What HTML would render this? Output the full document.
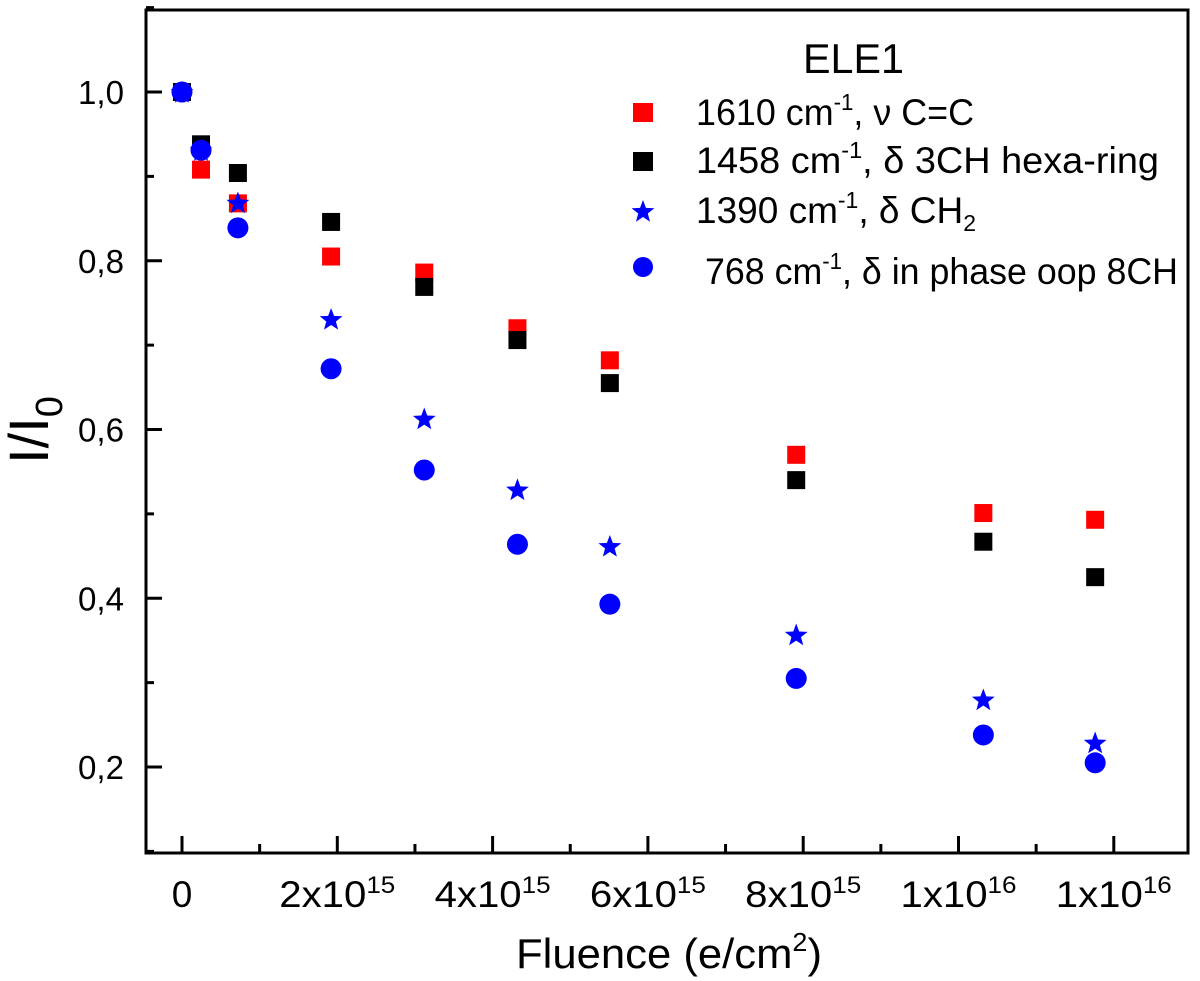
<!DOCTYPE html>
<html><head><meta charset="utf-8"><style>
html,body{margin:0;padding:0;background:#fff;}
svg{display:block;font-family:"Liberation Sans",Arial,sans-serif;}
</style></head><body>
<svg id="chart" width="1200" height="981" viewBox="0 0 1200 981">
<rect x="146" y="10" width="1042" height="843" fill="none" stroke="#000" stroke-width="3"/>
<g id="axes"></g>
<g id="marks"></g>
<text x="48" y="430" font-size="56" text-anchor="middle" transform="rotate(-90 48 430)">I/I<tspan font-size="38" dy="14">0</tspan></text>
<text x="516" y="968" font-size="42" textLength="306" lengthAdjust="spacingAndGlyphs">Fluence (e/cm<tspan font-size="26" dy="-17">2</tspan><tspan dy="17">)</tspan></text>
<g>
<text x="803" y="73" font-size="42" textLength="101" lengthAdjust="spacingAndGlyphs">ELE1</text>
<rect x="633" y="103" width="20" height="19" fill="#f00"/>
<text x="696" y="125" font-size="37" textLength="278" lengthAdjust="spacingAndGlyphs">1610 cm<tspan font-size="23" dy="-15">-1</tspan><tspan dy="15">, ν C=C</tspan></text>
<rect x="633" y="152" width="20" height="19" fill="#000"/>
<text x="696" y="173" font-size="37" textLength="463" lengthAdjust="spacingAndGlyphs">1458 cm<tspan font-size="23" dy="-15">-1</tspan><tspan dy="15">, δ 3CH hexa-ring</tspan></text>
<path id="legstar" fill="#00f"/>
<text x="696" y="223" font-size="37" textLength="280" lengthAdjust="spacingAndGlyphs">1390 cm<tspan font-size="23" dy="-15">-1</tspan><tspan dy="15">, δ  CH</tspan><tspan font-size="23" dy="8">2</tspan></text>
<circle cx="643" cy="267" r="10" fill="#00f"/>
<text x="705" y="284" font-size="37" textLength="473" lengthAdjust="spacingAndGlyphs">768 cm<tspan font-size="23" dy="-15">-1</tspan><tspan dy="15">, δ in phase oop 8CH</tspan></text>
</g>
</svg>
<script>
const fluence = [0, 0.245, 0.72, 1.92, 3.12, 4.32, 5.51, 7.91, 10.32, 11.76]; // x1e15
const red1610 = [1.0, 0.908, 0.868, 0.805, 0.786, 0.720, 0.682, 0.570, 0.501, 0.493];
const black1458 = [1.0, 0.938, 0.904, 0.846, 0.769, 0.706, 0.655, 0.540, 0.467, 0.425];
const star1390 = [1.0, 0.931, 0.869, 0.731, 0.613, 0.529, 0.462, 0.357, 0.280, 0.229];
const circ768 = [1.0, 0.931, 0.839, 0.672, 0.552, 0.464, 0.393, 0.305, 0.238, 0.205];
const yTicks = [0.2, 0.4, 0.6, 0.8, 1.0];
const yTickLabels = ["0,2", "0,4", "0,6", "0,8", "1,0"];
const xTicks = [0, 2, 4, 6, 8, 10, 12];
const xTickMant = ["0", "2x10", "4x10", "6x10", "8x10", "1x10", "1x10"];
const xTickExp = ["", "15", "15", "15", "15", "16", "16"];

const NS = "http://www.w3.org/2000/svg";
function X(v){ return 182 + v * 77.65; }
function Y(v){ return 92 + (1 - v) * 843.75; }
function mk(tag, attrs, parent){ const e = document.createElementNS(NS, tag); for (const k in attrs) e.setAttribute(k, attrs[k]); parent.appendChild(e); return e; }
function starPath(cx, cy, R){ const r = R * 0.42; let d = ""; for (let i = 0; i < 10; i++){ const a = -Math.PI/2 + i*Math.PI/5; const rr = i%2 ? r : R; d += (i ? "L" : "M") + (cx + rr*Math.cos(a)).toFixed(2) + " " + (cy + rr*Math.sin(a)).toFixed(2); } return d + "Z"; }

const axes = document.getElementById("axes");
yTicks.forEach((v, i) => {
  const t = mk("line", {x1:146, x2:162, y1:Y(v), y2:Y(v), stroke:"#000", "stroke-width":3}, axes);
  
  
  const m = mk("line", {x1:146, x2:154, y1:Y(v+0.1), y2:Y(v+0.1), stroke:"#000", "stroke-width":3}, axes);
  
  
  const l = mk("text", {x:78, y:Y(v)+12, "font-size":33, textLength:46, lengthAdjust:"spacingAndGlyphs"}, axes);
  l.textContent = yTickLabels[i];
  
  
});
const m0 = mk("line", {x1:146, x2:154, y1:Y(0.1), y2:Y(0.1), stroke:"#000", "stroke-width":3}, axes);


xTicks.forEach((v, i) => {
  const t = mk("line", {x1:X(v), x2:X(v), y1:853, y2:836, stroke:"#000", "stroke-width":3}, axes);
  
  
  if (i < xTicks.length - 1) {
    const m = mk("line", {x1:X(v+1), x2:X(v+1), y1:853, y2:844, stroke:"#000", "stroke-width":3}, axes);
    
    
  }
  const attrs = xTickExp[i] ? {x:X(v)-58, y:907, "font-size":37, textLength:116, lengthAdjust:"spacingAndGlyphs"} : {x:X(v), y:907, "font-size":37, "text-anchor":"middle"};
  const l = mk("text", attrs, axes);
  
  
  const s1 = mk("tspan", {}, l); s1.textContent = xTickMant[i];
  if (xTickExp[i]) { const s2 = mk("tspan", {"font-size":24, dy:-14}, l); s2.textContent = xTickExp[i]; }
});

const marks = document.getElementById("marks");
fluence.forEach((f, i) => {
  const a = mk("rect", {x:X(f)-9, y:Y(red1610[i])-9, width:18, height:18, fill:"#f00"}, marks);
  
  
});
fluence.forEach((f, i) => {
  const a = mk("rect", {x:X(f)-9, y:Y(black1458[i])-9, width:18, height:18, fill:"#000"}, marks);
  
  
});
fluence.forEach((f, i) => {
  const a = mk("path", {d:starPath(X(f), Y(star1390[i])+1, 12), fill:"#00f"}, marks);
  
  
});
fluence.forEach((f, i) => {
  const a = mk("circle", {cx:X(f), cy:Y(circ768[i]), r:10.5, fill:"#00f"}, marks);
  
  
});
document.getElementById("legstar").setAttribute("d", starPath(643, 212, 12));
</script>
</body></html>
